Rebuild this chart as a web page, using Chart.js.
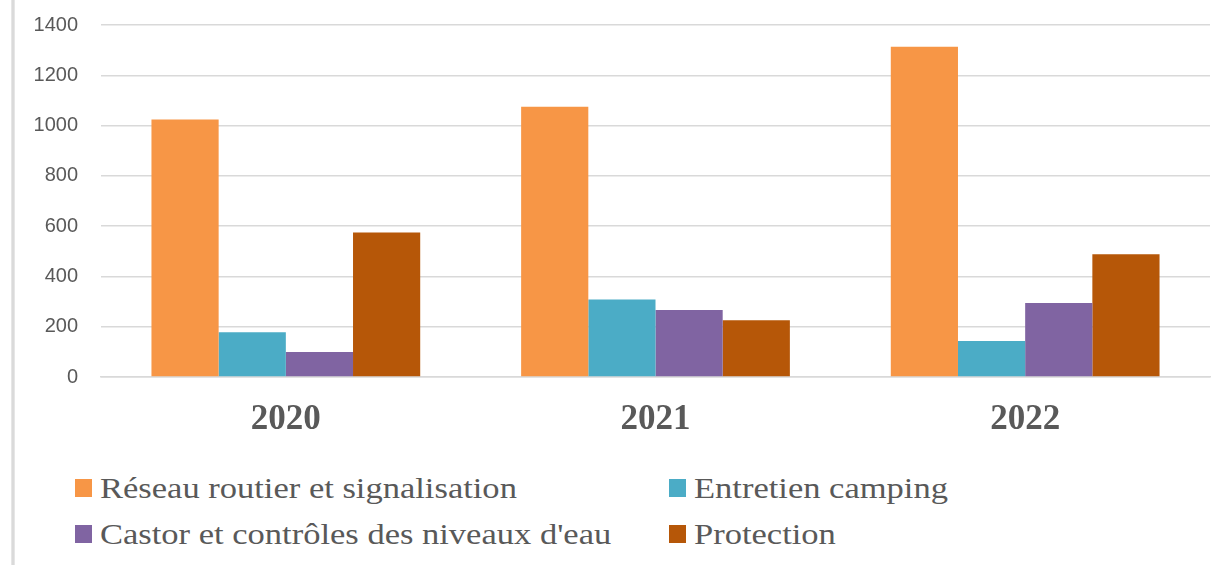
<!DOCTYPE html>
<html>
<head>
<meta charset="utf-8">
<script src="https://cdn.jsdelivr.net/npm/chart.js@4.4.1/dist/chart.umd.min.js"></script>
<style>
    body { margin: 0; background: #fff; }
    #wrap { position: relative; width: 1225px; height: 565px; overflow: hidden; }
    #edge { position: absolute; left: 11px; top: 0; width: 4px; height: 565px; background: linear-gradient(to right, #ececec, #d4d4d4, #ececec); z-index: 2; }
    #chart-box { position: absolute; left: 0; top: -10px; width: 1225px; height: 460px; }
    #legend { position: absolute; left: 75px; top: 470px; display: grid; grid-template-columns: 594px auto; row-gap: 10px;
        font-family: "Liberation Serif", "Times New Roman", serif; font-size: 29px; color: #595959; }
    .leg-item { display: flex; align-items: center; height: 36px; white-space: nowrap; }
    .leg-box { width: 17px; height: 18px; margin-right: 8px; flex: none; }
    .leg-text { display: inline-block; transform: scaleX(1.19); transform-origin: left center; }
</style>
</head>
<body>
<div id="wrap">
    <div id="edge"></div>
    <div id="chart-box"><canvas id="bar-chart"></canvas></div>
    <div id="legend"></div>
</div>
<script>
// Données
const annees = ['2020', '2021', '2022'];
const seriesNoms = ['Réseau routier et signalisation', 'Entretien camping', 'Castor et contrôles des niveaux d\'eau', 'Protection'];
const reseauRoutier = [1024, 1075, 1313];
const entretienCamping = [178, 308, 143];
const castor = [99, 266, 294];
const protection = [575, 226, 488];
const couleurs = ['#F79646', '#4BACC6', '#8064A2', '#B65708'];

const valeurs = [reseauRoutier, entretienCamping, castor, protection];

const datasets = seriesNoms.map((nom, i) => ({
    label: nom,
    data: valeurs[i],
    backgroundColor: couleurs[i],
    borderWidth: 0,
    barPercentage: 1,
    categoryPercentage: 0.727
}));

const ctx = document.getElementById('bar-chart').getContext('2d');
const chart = new Chart(ctx, {
    type: 'bar',
    data: { labels: annees, datasets: datasets },
    options: {
        responsive: true, maintainAspectRatio: false, animation: false,
        layout: { padding: { top: 14, right: 15, left: 0, bottom: 0 } },
        plugins: { legend: { display: false }, tooltip: { enabled: false } },
        scales: {
            x: {
                grid: { display: false, drawTicks: false },
                border: { display: true, color: '#d9d9d9', width: 1.5 },
                ticks: {
                    color: '#595959', padding: 22,
                    font: { family: '"Liberation Serif", "Times New Roman", serif', size: 35, weight: 'bold' }
                },
                afterFit: (scale) => { scale.height = 73; }
            },
            y: {
                min: 0, max: 1400,
                grid: { color: '#d9d9d9', lineWidth: 1.5, drawTicks: false },
                border: { display: false },
                ticks: {
                    stepSize: 200, color: '#595959', padding: 23,
                    font: { family: '"Liberation Sans", Arial, sans-serif', size: 20 },
                    callback: (value) => String(value)
                },
                afterFit: (scale) => { scale.width = 101; }
            }
        }
    }
});

// Légende en HTML, deux colonnes comme l'original
const legend = document.getElementById('legend');
chart.data.datasets.forEach(ds => {
    const item = document.createElement('div');
    item.className = 'leg-item';
    item.innerHTML = `<span class="leg-box" style="background:${ds.backgroundColor}"></span><span class="leg-text">${ds.label}</span>`;
    legend.appendChild(item);
});
</script>
</body>
</html>
